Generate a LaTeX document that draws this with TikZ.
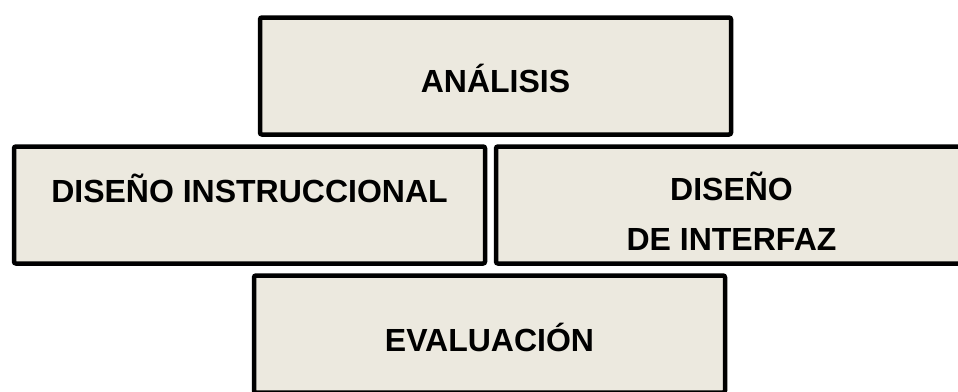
\documentclass[tikz,border=0pt]{standalone}
\usepackage{fontspec}
\setmainfont{Liberation Sans}
\usepackage{tikz}
\usetikzlibrary{shapes.geometric}
\definecolor{beige}{RGB}{236,233,223}
\tikzstyle{phase} = [rectangle, rounded corners=2pt, minimum width=471pt, minimum height=117pt, inner sep=0pt, text centered, align=center, draw=black, line width=4.5pt, fill=beige, font=\fontsize{32}{50}\selectfont\bfseries]

\begin{document}
\begin{tikzpicture}[node distance=129pt]
\useasboundingbox (0,0) rectangle (958pt,-391pt);
\node (anal) [phase, text height=32pt, text depth=0pt] at (495.5pt,-76pt) {ANÁLISIS};
\node (dins) [phase, below of=anal, xshift=-246pt, text height=24pt, text depth=30pt] {DISEÑO INSTRUCCIONAL};
\node (dint) [phase, below of=anal, xshift=236pt, text height=90pt, text depth=0pt] {DISEÑO\\DE INTERFAZ};
\node (eval) [phase, below of=dins, xshift=240pt, text height=34pt, text depth=0pt] {EVALUACIÓN};
\end{tikzpicture}
\end{document}
